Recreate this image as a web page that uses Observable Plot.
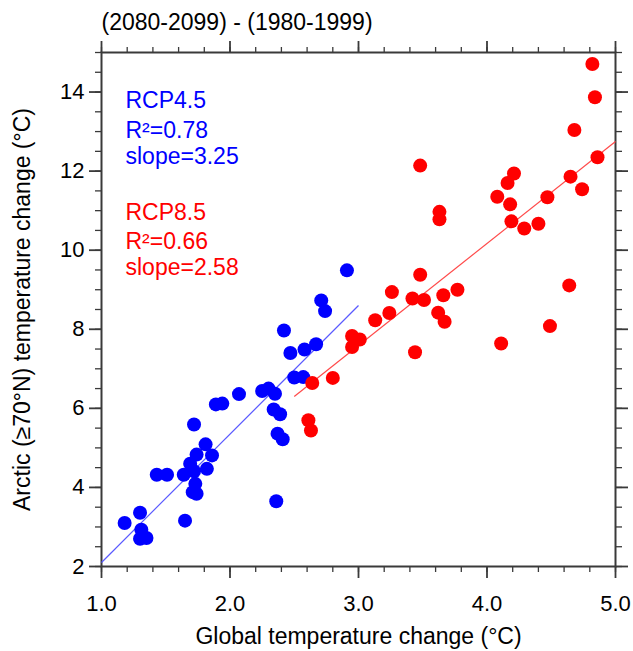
<!DOCTYPE html>
<html><head><meta charset="utf-8">
<script src="https://cdn.jsdelivr.net/npm/d3@7"></script>
<script src="https://cdn.jsdelivr.net/npm/@observablehq/plot@0.6"></script>
<style>body{margin:0;background:#fff}#chart{width:633px;height:651px}</style>
</head><body><div id="chart"></div>
<script>
// RCP4.5 model points (global ΔT, Arctic ΔT)
const rcp45X = [1.18,1.30,1.31,1.30,1.35,1.43,1.51,1.65,1.64,1.69,1.73,1.71,1.74,1.82,1.72,1.89,1.94,2.07,2.25,2.30,2.35,1.81,1.74,1.86,1.72,2.34,2.39,2.37,2.41,2.50,2.57,2.36,2.91,2.71,2.74,2.42,2.47,2.58,2.67];
const rcp45Y = [3.10,3.36,2.93,2.70,2.72,4.32,4.32,3.16,4.32,4.60,4.09,3.88,3.84,4.47,5.59,6.10,6.12,6.36,6.44,6.50,6.37,5.09,4.83,4.81,4.41,5.97,5.85,5.36,5.22,6.78,6.79,3.65,9.49,8.73,8.46,7.97,7.40,7.49,7.62];
// RCP8.5 model points
const rcp85X = [2.64,2.80,2.61,2.63,2.95,3.01,2.95,3.13,3.24,3.26,3.42,3.44,3.48,3.51,3.66,3.62,3.67,3.77,4.11,4.49,4.64,4.82,4.84,4.68,4.86,3.48,4.21,4.16,4.08,4.18,4.65,4.74,4.47,4.19,4.29,4.40,3.63,3.63];
const rcp85Y = [6.64,6.77,5.70,5.44,7.83,7.74,7.55,8.23,8.41,8.94,8.78,7.42,9.38,8.74,8.86,8.42,8.19,9.00,7.64,8.08,9.11,14.71,13.87,13.04,12.35,12.14,11.94,11.70,11.35,11.16,11.86,11.54,11.34,10.73,10.55,10.67,10.97,10.78];
// Regression lines
const fitScenario = ["RCP4.5","RCP8.5"];
const fitSlope = [3.25, 2.58];
const fitR2 = [0.78, 0.66];
const fitStartX = [1.0, 2.5];
const fitStartY = [2.1, 6.3];
const fitEndX = [3.0, 5.0];
// Ticks
const xMajor = [1,2,3,4,5];
const xMinor = d3.range(1, 5.001, 0.2);
const yMajor = [2,4,6,8,10,12,14];
const yMinor = d3.range(2, 15.001, 0.5);

const colors = {"RCP4.5":"#0000ff","RCP8.5":"#ff0000"};
const lineColors = {"RCP4.5":"#5a5aff","RCP8.5":"#ff4a4a"};

const pts45 = rcp45X.map((x,i)=>({x, y:rcp45Y[i]}));
const pts85 = rcp85X.map((x,i)=>({x, y:rcp85Y[i]}));
const fitSegs = fitScenario.map((s,i)=>({s, x1:fitStartX[i], y1:fitStartY[i], x2:fitEndX[i], y2:fitStartY[i]+fitSlope[i]*(fitEndX[i]-fitStartX[i])}));

const ax = "#3a3a3a";
const font = "Liberation Sans, Arial, Helvetica, sans-serif";
const noLabel = () => "";

const annMarks = [];
const annOffsets = [[48, 78, 104], [160, 189, 215]];
fitScenario.forEach((s,i)=>{
  const lines = [s, "R²=" + fitR2[i].toFixed(2), "slope=" + fitSlope[i].toFixed(2)];
  lines.forEach((t,j)=>{
    annMarks.push(Plot.text([t], {frameAnchor: "top-left", dx: 24, dy: annOffsets[i][j], textAnchor: "start", lineAnchor: "middle", fill: colors[s], fontSize: 23}));
  });
});

const chart = Plot.plot({
  width: 633, height: 651,
  marginLeft: 101, marginRight: 18, marginTop: 52, marginBottom: 85,
  x: {domain: [1, 5]},
  y: {domain: [2, 15]},
  style: {fontFamily: font, fontSize: "22px", color: "#000", background: "#fff", overflow: "visible"},
  marks: [
    Plot.axisX(xMinor, {anchor: "bottom", tickSize: 6, tickFormat: noLabel, stroke: ax, strokeWidth: 1.3, label: null}),
    Plot.axisX(xMinor, {anchor: "top", tickSize: 6, tickFormat: noLabel, stroke: ax, strokeWidth: 1.3, label: null}),
    Plot.axisX(xMajor, {anchor: "bottom", tickSize: 12, tickPadding: 17, tickFormat: d => d.toFixed(1), stroke: ax, strokeWidth: 1.8, fill: "#000", label: null}),
    Plot.axisX(xMajor, {anchor: "top", tickSize: 12, tickFormat: noLabel, stroke: ax, strokeWidth: 1.8, label: null}),
    Plot.axisY(yMinor, {anchor: "left", tickSize: 6, tickFormat: noLabel, stroke: ax, strokeWidth: 1.3, label: null}),
    Plot.axisY(yMinor, {anchor: "right", tickSize: 6, tickFormat: noLabel, stroke: ax, strokeWidth: 1.3, label: null}),
    Plot.axisY(yMajor, {anchor: "left", tickSize: 12, tickPadding: 5, tickFormat: d => String(d), stroke: ax, strokeWidth: 1.8, fill: "#000", label: null}),
    Plot.axisY(yMajor, {anchor: "right", tickSize: 12, tickFormat: noLabel, stroke: ax, strokeWidth: 1.8, label: null}),
    Plot.frame({stroke: ax, strokeWidth: 2}),
    Plot.link(fitSegs, {x1: "x1", y1: "y1", x2: "x2", y2: "y2", stroke: d => lineColors[d.s], strokeWidth: 1.2}),
    Plot.dot(pts45, {x: "x", y: "y", r: 7, fill: colors["RCP4.5"]}),
    Plot.dot(pts85, {x: "x", y: "y", r: 7, fill: colors["RCP8.5"]}),
    ...annMarks,
    Plot.text(["(2080-2099) - (1980-1999)"], {frameAnchor: "top-left", dx: 0, dy: -30, textAnchor: "start", lineAnchor: "middle", fontSize: 23, fill: "#000"}),
    Plot.text(["Global temperature change (°C)"], {frameAnchor: "bottom", dy: 70, textAnchor: "middle", lineAnchor: "middle", fontSize: 23, fill: "#000"}),
    Plot.text(["Arctic (≥70°N) temperature change (°C)"], {frameAnchor: "left", dx: -79, rotate: -90, textAnchor: "middle", lineAnchor: "middle", fontSize: 23, fill: "#000"})
  ]
});
document.getElementById("chart").appendChild(chart);
</script>
</body></html>
